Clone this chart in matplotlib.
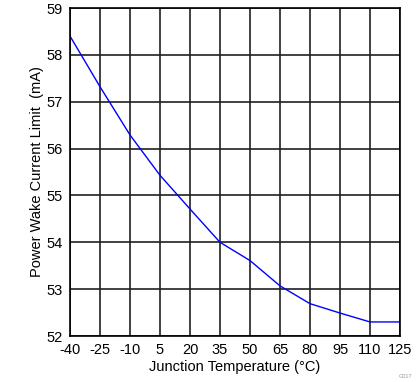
import matplotlib
matplotlib.use('Agg')
import matplotlib.pyplot as plt
import numpy as np

temps = [-40, -25, -10, 5, 20, 35, 50, 65, 80, 95, 110, 125]
current = [58.40, 57.32, 56.29, 55.43, 54.71, 54.00, 53.61, 53.07, 52.69, 52.49, 52.30, 52.30]

x_ticks = np.arange(-40, 126, 15)
y_ticks = np.arange(52, 60, 1)

plt.rcParams['font.family'] = ['Liberation Sans', 'DejaVu Sans']
plt.rcParams['axes.unicode_minus'] = False

fig = plt.figure(figsize=(4.19, 3.82), dpi=100)
ax = fig.add_axes([70 / 419, 1 - 336 / 382, 330 / 419, 328 / 382])

ax.plot(temps, current, color='#0000ff', linewidth=1.0)
ax.set_xlim(-40, 125)
ax.set_ylim(52, 59)
ax.set_xticks(x_ticks)
ax.set_yticks(y_ticks)
ax.grid(True, color='#202020', linewidth=1.2)
ax.set_axisbelow(True)
for s in ax.spines.values():
    s.set_color('black')
    s.set_linewidth(1.2)
ax.tick_params(length=0, labelsize=10.5, pad=5)
ax.set_xlabel('Junction Temperature (°C)', fontsize=10.5, labelpad=2)
ax.set_ylabel('Power Wake Current Limit  (mA)', fontsize=10.5, labelpad=2)

fig.text(412 / 419, 1 - 376 / 382, 'G017', fontsize=4, color='#999999', ha='right', va='center')

fig.savefig('out.png', dpi=100)
